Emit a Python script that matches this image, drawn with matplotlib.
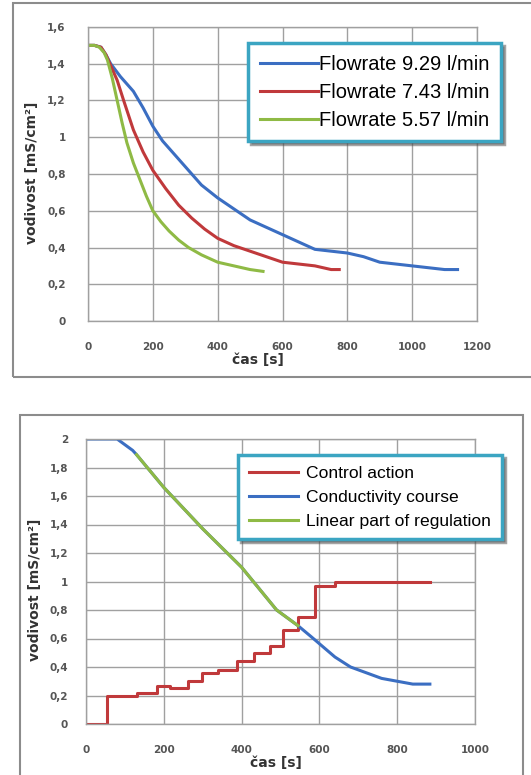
import matplotlib
matplotlib.use("Agg")
import matplotlib.pyplot as plt
from matplotlib.patches import Rectangle

# --- top chart: conductivity drop for three flowrates ---
t_929 = [0, 20, 40, 55, 70, 100, 140, 170, 200, 230, 265, 300, 350, 400, 450,
         500, 550, 600, 650, 700, 750, 800, 850, 900, 950, 1000, 1050, 1100, 1140]
c_929 = [1.50, 1.50, 1.49, 1.45, 1.40, 1.33, 1.25, 1.16, 1.06, 0.98, 0.91, 0.84,
         0.74, 0.67, 0.61, 0.55, 0.51, 0.47, 0.43, 0.39, 0.38, 0.37, 0.35, 0.32,
         0.31, 0.30, 0.29, 0.28, 0.28]

t_743 = [0, 20, 40, 55, 70, 90, 110, 140, 170, 200, 240, 280, 320, 360, 400,
         450, 500, 550, 600, 650, 700, 750, 775]
c_743 = [1.50, 1.50, 1.49, 1.45, 1.39, 1.31, 1.20, 1.04, 0.92, 0.82, 0.72, 0.63,
         0.56, 0.50, 0.45, 0.41, 0.38, 0.35, 0.32, 0.31, 0.30, 0.28, 0.28]

t_557 = [0, 20, 35, 50, 60, 75, 90, 105, 120, 140, 160, 180, 200, 225, 250, 280,
         310, 350, 400, 450, 500, 540]
c_557 = [1.50, 1.50, 1.49, 1.46, 1.42, 1.32, 1.20, 1.08, 0.97, 0.86, 0.77, 0.68,
         0.60, 0.54, 0.49, 0.44, 0.40, 0.36, 0.32, 0.30, 0.28, 0.27]

flow_labels = ["Flowrate 9.29 l/min", "Flowrate 7.43 l/min", "Flowrate 5.57 l/min"]

# --- bottom chart: regulation ---
t_ctrl = [0, 55, 130, 182, 216, 261, 297, 340, 387, 432, 473, 507, 546, 589, 640, 884]
u_ctrl = [0, 0.20, 0.22, 0.27, 0.25, 0.30, 0.36, 0.38, 0.44, 0.50, 0.55, 0.66,
          0.75, 0.97, 1.00, 1.00]

t_cond = [0, 40, 80, 100, 120, 130, 200, 300, 400, 490, 545, 580, 610, 640, 680,
          720, 760, 800, 840, 884]
c_cond = [2.0, 2.0, 2.0, 1.96, 1.92, 1.89, 1.66, 1.37, 1.10, 0.80, 0.69, 0.61,
          0.54, 0.47, 0.40, 0.36, 0.32, 0.30, 0.28, 0.28]

t_lin = [130, 200, 300, 400, 490, 545]
c_lin = [1.89, 1.66, 1.37, 1.10, 0.80, 0.69]

reg_labels = ["Control action", "Conductivity course", "Linear part of regulation"]

BLUE = "#3b6ec2"
RED = "#c0393b"
GREEN = "#8fba45"
TEAL = "#3ba5c2"
GRID = "#a0a0a0"


def comma_fmt(v, pos):
    s = f"{v:.1f}".replace(".", ",")
    if s.endswith(",0"):
        s = s[:-2]
    return s


def style_axes(ax, xmax, ymax, ypad):
    ax.set_xlim(0, xmax)
    ax.set_ylim(0, ymax)
    ax.set_xticks(range(0, xmax + 1, 200))
    ax.set_yticks([i * 0.2 for i in range(int(round(ymax / 0.2)) + 1)])
    ax.yaxis.set_major_formatter(plt.FuncFormatter(comma_fmt))
    ax.grid(True, color=GRID, linewidth=1.0)
    ax.set_axisbelow(True)
    for s in ax.spines.values():
        s.set_color(GRID)
        s.set_linewidth(1.0)
    ax.tick_params(length=0, labelsize=7.5, labelcolor="#555555")
    ax.tick_params(axis="x", pad=15)
    ax.tick_params(axis="y", pad=ypad)
    for lab in ax.get_xticklabels() + ax.get_yticklabels():
        lab.set_fontweight("bold")


fig = plt.figure(figsize=(5.31, 7.75), dpi=100)

# outer frames
fig.add_artist(Rectangle((13 / 531, 398 / 775), 0.99, 374 / 775,
                         transform=fig.transFigure, fill=False,
                         edgecolor="#8c8c8c", linewidth=1.5))
fig.add_artist(Rectangle((20 / 531, -0.05), 503 / 531, 360 / 775 + 0.05,
                         transform=fig.transFigure, fill=False,
                         edgecolor="#8c8c8c", linewidth=1.5))

# top chart
ax1 = fig.add_axes([88 / 531, 454 / 775, 389 / 531, 294 / 775])
ax1.plot(t_929, c_929, color=BLUE, linewidth=2.2, label=flow_labels[0])
ax1.plot(t_743, c_743, color=RED, linewidth=2.2, label=flow_labels[1])
ax1.plot(t_557, c_557, color=GREEN, linewidth=2.2, label=flow_labels[2])
style_axes(ax1, 1200, 1.6, 16)
ax1.text(0.437, -0.133, "čas [s]", transform=ax1.transAxes, ha="center",
         va="center", fontsize=10, fontweight="bold", color="#333333")
ax1.text(-0.144, 0.503, "vodivost [mS/cm²]", transform=ax1.transAxes,
         ha="center", va="center", rotation=90, fontsize=10,
         fontweight="bold", color="#333333")
leg1 = ax1.legend(loc="upper left", bbox_to_anchor=(0.411, 0.946),
                  prop={"family": "Liberation Sans", "size": 14.5},
                  handlelength=2.9, handletextpad=0.05, labelspacing=0.45,
                  borderpad=0.58, borderaxespad=0, fancybox=False, shadow=True,
                  framealpha=1)
leg1.get_frame().set_edgecolor(TEAL)
leg1.get_frame().set_linewidth(2.5)

# bottom chart
ax2 = fig.add_axes([86 / 531, 51 / 775, 389 / 531, 285 / 775])
ax2.step(t_ctrl, u_ctrl, where="post", color=RED, linewidth=2.2, label=reg_labels[0])
ax2.plot(t_cond, c_cond, color=BLUE, linewidth=2.2, label=reg_labels[1])
ax2.plot(t_lin, c_lin, color=GREEN, linewidth=2.2, label=reg_labels[2])
style_axes(ax2, 1000, 2.0, 13)
ax2.text(0.488, -0.137, "čas [s]", transform=ax2.transAxes, ha="center",
         va="center", fontsize=10, fontweight="bold", color="#333333")
ax2.text(-0.131, 0.47, "vodivost [mS/cm²]", transform=ax2.transAxes,
         ha="center", va="center", rotation=90, fontsize=10,
         fontweight="bold", color="#333333")
leg2 = ax2.legend(loc="upper left", bbox_to_anchor=(0.391, 0.944),
                  prop={"family": "Liberation Sans", "size": 12.6},
                  handlelength=2.85, handletextpad=0.45, labelspacing=0.5,
                  borderpad=0.6, borderaxespad=0, fancybox=False, shadow=True,
                  framealpha=1)
leg2.get_frame().set_edgecolor(TEAL)
leg2.get_frame().set_linewidth(2.5)

fig.savefig("out.png", dpi=100)
